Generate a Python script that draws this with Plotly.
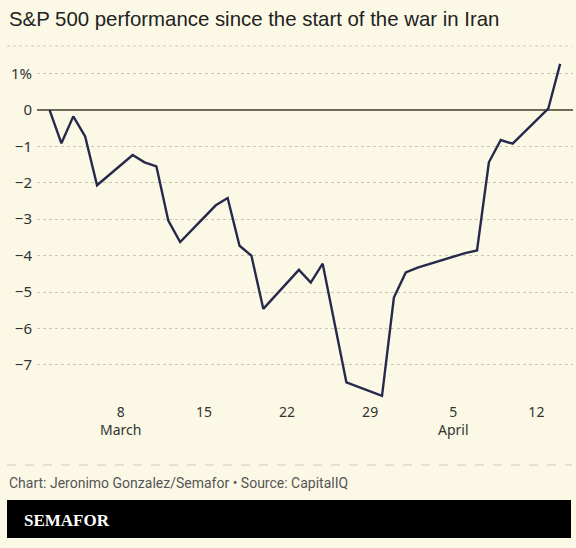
import plotly.graph_objects as go

# ---- data ----
dates = ["2026-03-02", "2026-03-03", "2026-03-04", "2026-03-05", "2026-03-06",
         "2026-03-09", "2026-03-10", "2026-03-11", "2026-03-12", "2026-03-13",
         "2026-03-16", "2026-03-17", "2026-03-18", "2026-03-19", "2026-03-20",
         "2026-03-23", "2026-03-24", "2026-03-25", "2026-03-26", "2026-03-27",
         "2026-03-30", "2026-03-31", "2026-04-01", "2026-04-02",
         "2026-04-06", "2026-04-07", "2026-04-08", "2026-04-09", "2026-04-10",
         "2026-04-13", "2026-04-14"]
performance = [0.0, -0.92, -0.18, -0.73, -2.07,
               -1.24, -1.44, -1.55, -3.04, -3.63,
               -2.62, -2.42, -3.73, -4.00, -5.46,
               -4.39, -4.74, -4.22, -5.85, -7.48,
               -7.85, -5.15, -4.46, -4.33,
               -3.93, -3.86, -1.44, -0.83, -0.93,
               0.03, 1.26]

x_tick_vals = ["2026-03-08", "2026-03-15", "2026-03-22", "2026-03-29", "2026-04-05", "2026-04-12"]
x_tick_text = ["8<br>March", "15", "22", "29", "5<br>April", "12"]
y_tick_vals = [1, 0, -1, -2, -3, -4, -5, -6, -7]
y_tick_text = ["1%", "0", "\u22121", "\u22122", "\u22123", "\u22124", "\u22125", "\u22126", "\u22127"]

title_text = "S&P 500 performance since the start of the war in Iran"
credit_text = "Chart: Jeronimo Gonzalez/Semafor \u2022 Source: CapitalIQ"
brand_text = "SEMAFOR"

# ---- layout geometry (pixels) ----
W, H = 576, 548
L, R, T, B = 37, 3, 55, 146
plot_h = H - T - B
plot_w = W - L - R


def py(p):
    return (H - B - p) / plot_h


def px(p):
    return (p - L) / plot_w


BG = "#FBF9E6"
LINE = "#26294B"

fig = go.Figure()
fig.add_trace(go.Scatter(
    x=dates, y=performance, mode="lines",
    line=dict(color=LINE, width=2.4),
    hoverinfo="skip", showlegend=False,
))

fig.update_layout(
    width=W, height=H,
    margin=dict(l=L, r=R, t=T, b=B, pad=0),
    paper_bgcolor=BG, plot_bgcolor=BG,
    showlegend=False,
    font=dict(family="Noto Sans", size=14, color="#333333"),
    xaxis=dict(
        type="date",
        range=["2026-02-28 22:40", "2026-04-15 02:00"],
        tickmode="array", tickvals=x_tick_vals, ticktext=x_tick_text,
        showgrid=False, zeroline=False, showline=False, ticks="",
        tickfont=dict(family="Noto Sans", size=14, color="#333333"),
        fixedrange=True,
    ),
    yaxis=dict(
        range=[-(H - B - T - (109.8 - T)) / 36.45, (109.8 - T) / 36.45],
        tickmode="array", tickvals=y_tick_vals, ticktext=y_tick_text,
        showgrid=True, gridcolor="#C9C7B4", griddash="dot", gridwidth=1,
        zeroline=True, zerolinecolor="#6E6C58", zerolinewidth=1.6,
        showline=False, ticks="", ticklabelstandoff=4,
        tickfont=dict(family="Noto Sans", size=15, color="#333333"),
        fixedrange=True,
    ),
)

shapes = [
    # separator under title
    dict(type="line", xref="paper", yref="paper", x0=px(7), x1=px(572), y0=py(46), y1=py(46),
         line=dict(color="#CFCDBA", width=1, dash="dot")),
    # separator above credit
    dict(type="line", xref="paper", yref="paper", x0=px(7), x1=px(572), y0=py(465), y1=py(465),
         line=dict(color="#CFCDBA", width=1, dash="dash")),
    # brand bar
    dict(type="rect", xref="paper", yref="paper", x0=px(7), x1=px(571), y0=py(538), y1=py(500),
         fillcolor="#000000", line=dict(width=0), layer="above"),
]
fig.update_layout(shapes=shapes)

fig.add_annotation(text=title_text, xref="paper", yref="paper", x=px(7), y=py(19),
                   xanchor="left", yanchor="middle", showarrow=False,
                   font=dict(family="Liberation Sans", size=20.4, color="#222222"))
fig.add_annotation(text=credit_text, xref="paper", yref="paper", x=px(7), y=py(483),
                   xanchor="left", yanchor="middle", showarrow=False,
                   font=dict(family="Roboto", size=14, color="#555555"))
fig.add_annotation(text="<b>" + brand_text + "</b>", xref="paper", yref="paper", x=px(22), y=py(520),
                   xanchor="left", yanchor="middle", showarrow=False,
                   font=dict(family="Liberation Serif", size=17, color="#FFFFFF"))

fig.write_html("out.html", config={"displayModeBar": False, "staticPlot": True},
               post_script="document.body.style.margin='0';document.body.style.overflow='hidden';")
